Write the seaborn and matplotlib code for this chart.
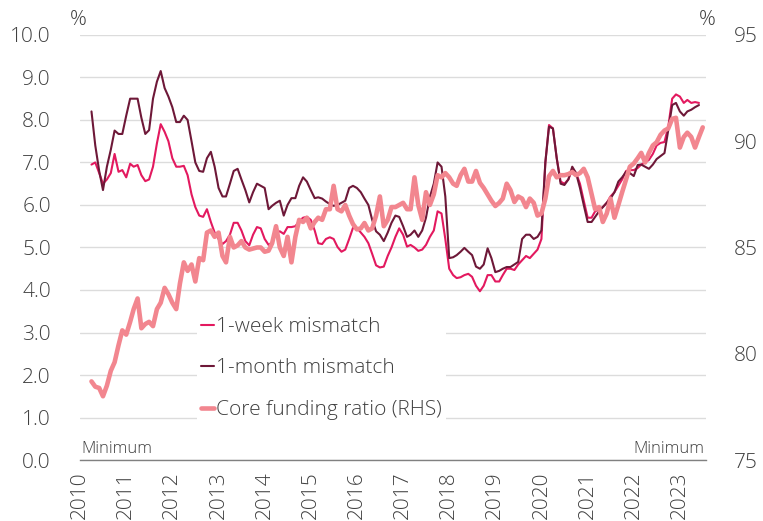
import pandas as pd
import matplotlib.pyplot as plt
import matplotlib.dates as mdates
from matplotlib.lines import Line2D
import seaborn as sns

# monthly observations, April 2010 onwards (per cent)
week_mismatch = [
    6.95, 7.0, 6.75, 6.5, 6.6, 6.75, 7.2, 6.78, 6.82,                      # 2010
    6.65, 6.97, 6.9, 6.94, 6.7, 6.56, 6.6, 6.9, 7.45, 7.9, 7.72, 7.5,      # 2011
    7.1, 6.9, 6.9, 6.92, 6.7, 6.25, 5.95, 5.75, 5.72, 5.9, 5.6, 5.35,      # 2012
    5.2, 5.08, 5.15, 5.3, 5.58, 5.58, 5.4, 5.15, 5.05, 5.3, 5.48, 5.45,    # 2013
    5.2, 5.06, 5.12, 5.35, 5.38, 5.32, 5.48, 5.48, 5.5, 5.62, 5.7, 5.72,   # 2014
    5.65, 5.4, 5.1, 5.08, 5.2, 5.24, 5.2, 5.01, 4.9, 4.95, 5.2, 5.46,      # 2015
    5.46, 5.35, 5.25, 5.1, 4.85, 4.58, 4.53, 4.55, 4.8, 5.0, 5.25, 5.45,   # 2016
    5.3, 5.02, 5.06, 5.0, 4.92, 4.95, 5.06, 5.25, 5.4, 5.85, 5.8, 5.2,     # 2017
    4.5, 4.35, 4.28, 4.3, 4.35, 4.38, 4.31, 4.1, 3.97, 4.1, 4.35, 4.35,    # 2018
    4.2, 4.2, 4.35, 4.5, 4.5, 4.47, 4.6, 4.7, 4.8, 4.75, 4.85, 4.95,       # 2019
    5.2, 7.0, 7.88, 7.8, 7.1, 6.55, 6.5, 6.6, 6.85, 6.75, 6.5, 6.1,        # 2020
    5.7, 5.7, 5.85, 5.9, 5.95, 6.05, 6.2, 6.3, 6.45, 6.6, 6.8, 6.82,       # 2021
    6.82, 6.87, 6.95, 7.0, 7.06, 7.2, 7.4, 7.46, 7.48, 7.84, 8.5, 8.6,     # 2022
    8.55, 8.4, 8.47, 8.4, 8.42, 8.4,                                       # 2023
]
month_mismatch = [
    8.2, 7.4, 6.8, 6.35, 6.9, 7.3, 7.75, 7.67, 7.67,                       # 2010
    8.1, 8.5, 8.5, 8.5, 8.05, 7.67, 7.76, 8.5, 8.9, 9.15, 8.75, 8.55,      # 2011
    8.3, 7.95, 7.95, 8.1, 8.0, 7.5, 7.0, 6.8, 6.78, 7.1, 7.25, 6.9,        # 2012
    6.4, 6.2, 6.2, 6.5, 6.8, 6.85, 6.6, 6.35, 6.06, 6.3, 6.5, 6.45,        # 2013
    6.4, 5.9, 5.98, 6.05, 6.1, 5.75, 6.0, 6.16, 6.16, 6.45, 6.65, 6.55,    # 2014
    6.35, 6.16, 6.18, 6.15, 6.08, 6.02, 5.98, 6.0, 6.05, 6.1, 6.4, 6.45,   # 2015
    6.4, 6.3, 6.15, 6.0, 5.65, 5.38, 5.3, 5.15, 5.35, 5.58, 5.75, 5.72,    # 2016
    5.5, 5.25, 5.3, 5.4, 5.25, 5.4, 5.7, 6.19, 6.5, 7.0, 6.9, 6.2,         # 2017
    4.75, 4.77, 4.82, 4.9, 4.99, 4.9, 4.82, 4.55, 4.5, 4.6, 4.98, 4.75,    # 2018
    4.42, 4.45, 4.5, 4.54, 4.54, 4.6, 4.66, 5.2, 5.3, 5.3, 5.2, 5.25,      # 2019
    5.4, 7.0, 7.84, 7.8, 7.1, 6.5, 6.47, 6.6, 6.9, 6.75, 6.4, 6.0,         # 2020
    5.6, 5.6, 5.72, 5.85, 5.95, 6.05, 6.15, 6.3, 6.55, 6.65, 6.78, 6.75,   # 2021
    6.68, 6.94, 6.95, 6.9, 6.85, 6.95, 7.08, 7.15, 7.22, 7.76, 8.35, 8.4,  # 2022
    8.2, 8.1, 8.2, 8.24, 8.3, 8.35,                                        # 2023
]
core_funding = [
    78.7, 78.45, 78.39, 78.0, 78.5, 79.2, 79.6, 80.4, 81.1,                # 2010
    80.9, 81.5, 82.1, 82.6, 81.2, 81.4, 81.5, 81.3, 82.1, 82.4, 83.1, 82.8,  # 2011
    82.4, 82.1, 83.3, 84.3, 83.9, 84.2, 83.4, 84.5, 84.4, 85.7, 85.8, 85.5,  # 2012
    85.7, 84.6, 84.3, 85.5, 85.0, 85.1, 85.3, 85.0, 84.9, 84.95, 85.0, 85.0, # 2013
    84.8, 84.85, 85.2, 86.0, 85.0, 84.6, 85.5, 84.3, 85.5, 86.3, 86.2, 86.4, # 2014
    85.9, 86.2, 86.4, 86.3, 86.8, 86.8, 87.9, 86.8, 86.7, 87.0, 86.5, 86.1,  # 2015
    85.85, 85.9, 86.15, 85.8, 85.9, 86.5, 87.4, 86.0, 86.3, 86.9, 86.9, 87.0, # 2016
    87.1, 86.8, 86.8, 88.3, 87.0, 86.3, 87.6, 87.0, 87.5, 88.4, 88.3, 88.5,  # 2017
    88.3, 88.0, 87.9, 88.4, 88.7, 88.1, 88.1, 88.6, 88.04, 87.8, 87.5, 87.2, # 2018
    86.95, 87.1, 87.3, 88.0, 87.7, 87.14, 87.4, 87.3, 86.9, 87.3, 87.1, 86.5, # 2019
    86.6, 87.3, 88.35, 88.6, 88.3, 88.4, 88.4, 88.45, 88.55, 88.4, 88.5, 88.7, # 2020
    88.3, 87.5, 86.8, 86.9, 86.2, 86.6, 87.3, 86.4, 87.0, 87.6, 88.2, 88.8,  # 2021
    88.95, 89.2, 89.45, 89.0, 89.45, 89.8, 89.95, 90.3, 90.5, 90.6, 91.05, 91.1, # 2022
    89.7, 90.2, 90.4, 90.2, 89.7, 90.2, 90.65,                             # 2023
]
years = list(range(2010, 2024))
labels = ['1-week mismatch', '1-month mismatch', 'Core funding ratio (RHS)']
colors = ['#E3195F', '#6E1838', '#F2868F']

dates = pd.date_range('2010-04-01', periods=len(core_funding), freq='MS')
mism = pd.DataFrame({'date': dates[:len(week_mismatch)],
                     'week': week_mismatch, 'month': month_mismatch})
core = pd.DataFrame({'date': dates, 'core': core_funding})

sns.set_style('white')
plt.rcParams['font.family'] = ['Open Sans', 'DejaVu Sans']
plt.rcParams['font.weight'] = 'light'
text_col = '#404040'

fig = plt.figure(figsize=(7.63, 5.21), dpi=100)
ax = fig.add_axes([0.105, 0.117, 0.82, 0.816])

sns.lineplot(data=mism, x='date', y='week', ax=ax, color=colors[0], lw=1.5)
sns.lineplot(data=mism, x='date', y='month', ax=ax, color=colors[1], lw=1.5)

ax2 = ax.twinx()
sns.lineplot(data=core, x='date', y='core', ax=ax2, color=colors[2], lw=3.3)

# left axis
ax.set_ylim(0, 10)
ax.set_yticks(range(0, 11))
ax.set_yticklabels([f'{v:.1f}' for v in range(0, 11)])
ax.yaxis.grid(True, color='#dcdcdc', lw=1)
ax.set_axisbelow(True)
ax.tick_params(axis='y', length=0, pad=21, labelsize=15, labelcolor=text_col)

# right axis
ax2.set_ylim(75, 95)
ax2.set_yticks(range(75, 96, 5))
ax2.tick_params(axis='y', length=0, pad=20, labelsize=15, labelcolor=text_col)

# x axis
ax.set_xlim(pd.Timestamp('2010-01-01'), pd.Timestamp('2023-07-25'))
ax.set_xticks([pd.Timestamp(f'{y}-01-01') for y in years])
ax.xaxis.set_major_formatter(mdates.DateFormatter('%Y'))
ax.tick_params(axis='x', length=6, width=1, color='#808080', pad=2,
               labelsize=15, labelcolor=text_col, labelrotation=90)

for a in (ax, ax2):
    a.set_xlabel('')
    a.set_ylabel('')
    for s in ('top', 'left', 'right', 'bottom'):
        a.spines[s].set_visible(False)
ax.spines['bottom'].set_visible(True)
ax.spines['bottom'].set_color('#808080')
ax.spines['bottom'].set_linewidth(1)

fig.text(0.102, 0.962, '%', ha='center', va='center', fontsize=15, color=text_col)
fig.text(0.927, 0.962, '%', ha='center', va='center', fontsize=15, color=text_col)
ax.text(0.002, 0.008, 'Minimum', transform=ax.transAxes, ha='left', va='bottom',
        fontsize=12, color=text_col)
ax.text(0.998, 0.008, 'Minimum', transform=ax.transAxes, ha='right', va='bottom',
        fontsize=12, color=text_col)

handles = [Line2D([], [], color=colors[0], lw=1.5),
           Line2D([], [], color=colors[1], lw=1.5),
           Line2D([], [], color=colors[2], lw=3.3)]
leg = ax2.legend(handles, labels, loc='lower left', bbox_to_anchor=(0.17, 0.06),
                 frameon=True, facecolor='white', edgecolor='none', framealpha=1,
                 fontsize=15, handlelength=0.6, handletextpad=0.1,
                 labelspacing=1.03, borderpad=0.2, labelcolor=text_col)

fig.savefig('out.png', dpi=100)
